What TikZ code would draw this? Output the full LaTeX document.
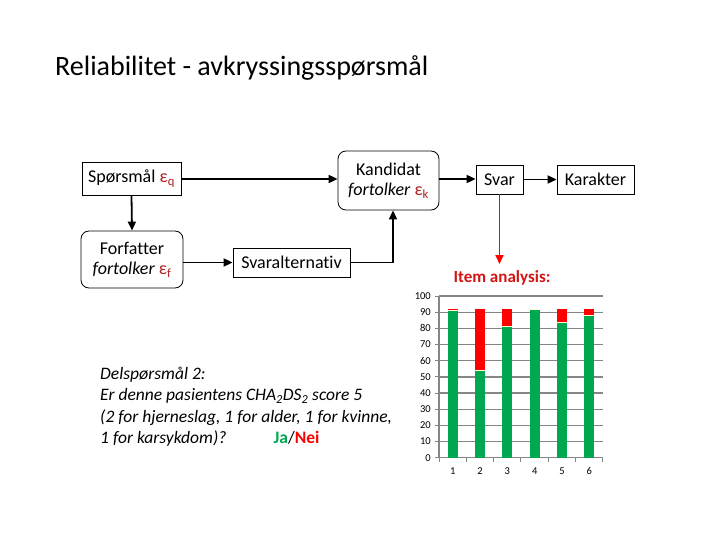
\documentclass[tikz,border=0pt]{standalone}
\usepackage{fontspec}
\setmainfont[Ligatures=NoCommon]{Carlito}
\usetikzlibrary{arrows.meta,positioning,calc}
\definecolor{epsred}{RGB}{175,35,35}
\definecolor{bargreen}{RGB}{0,168,80}
\definecolor{barred}{RGB}{255,0,0}
\definecolor{gridgray}{RGB}{134,134,134}
\definecolor{itemred}{RGB}{210,20,20}
\newcommand{\eps}[1]{\textcolor{epsred}{\upshape ε\textsubscript{#1}}}
\tikzset{
  sqbox/.style={draw=black, line width=0.8pt, fill=white, inner sep=0pt, align=center, font=\fontsize{18}{20}\selectfont},
  rbox/.style={sqbox, rounded corners=8pt},
  conn/.style={line width=1.8pt, -{Triangle[length=9pt,width=8pt]}},
  redconn/.style={line width=1.8pt, draw=barred, -{Triangle[length=9pt,width=8pt]}, color=barred},
  ytick/.style={anchor=east, inner sep=0pt, font=\fontsize{10.5}{11}\selectfont},
  xtick/.style={anchor=center, inner sep=0pt, font=\fontsize{10.5}{11}\selectfont},
}
\begin{document}
\begin{tikzpicture}[x=1pt,y=-1pt]
\useasboundingbox (0,0) rectangle (720,540);
% title
\node[anchor=base west, inner sep=0pt, font=\fontsize{28}{32}\selectfont] (title) at (55,76) {Reliabilitet - avkryssingsspørsmål};
% boxes
\node[sqbox, minimum width=99pt, minimum height=33pt] (spq) at (131.5,178.5) {Spørsmål \eps{q}};
\node[rbox, minimum width=101pt, minimum height=59pt] (kand) at (388.5,180.5) {Kandidat\\\textit{fortolker} \eps{k}};
\node[rbox, minimum width=102pt, minimum height=57pt] (forf) at (132,259.5) {Forfatter\\\textit{fortolker} \eps{f}};
\node[sqbox, minimum width=117pt, minimum height=29pt] (svalt) at (291.5,262.5) {Svaralternativ};
\node[sqbox, minimum width=47pt, minimum height=29pt] (svar) at (499.5,179.5) {Svar};
\node[sqbox, minimum width=77pt, minimum height=29pt] (kar) at (595.5,179.5) {Karakter};
% connectors
\draw[conn] (spq.east |- 0,179) -- (kand.west |- 0,179);
\draw[conn] (spq.south) -- (forf.north);
\draw[conn] (forf.east |- svalt.west) -- (svalt.west);
\draw[conn] (svalt.east) -| ([xshift=4.5pt]kand.south);
\draw[conn] (kand.east |- 0,179) -- (svar.west |- 0,179);
\draw[conn] (svar.east) -- (kar.west);
% item analysis
\node[inner sep=0pt, text=itemred, font=\bfseries\fontsize{17}{19}\selectfont] (item) at (502,278) {Item analysis:};
\coordinate (itemtip) at (499.5,264);
\draw[redconn] (svar.south) -- (itemtip);
% chart
\begin{scope}
\def\yv#1{457.7-1.617*#1}
\foreach \v in {10,20,...,100}{
  \draw[gridgray, line width=1.3pt] (439,{\yv{\v}}) -- (603,{\yv{\v}});
}
\foreach \v in {0,10,...,100}{
  \node[ytick] (yl\v) at (431,{\yv{\v}}) {\v};
  \draw[gridgray, line width=1pt] (435,{\yv{\v}}) -- (439,{\yv{\v}});
}
\draw[gridgray, line width=1.3pt] (439,{\yv{0}}) -- (439,{\yv{100}});
\draw[gridgray, line width=1.3pt] (439,{\yv{0}}) -- (603,{\yv{0}});
\foreach \i in {0,...,6}{
  \draw[gridgray, line width=1pt] ({439+27.33*\i},{\yv{0}}) -- ({439+27.33*\i},{\yv{0}+4});
}
\foreach \i/\g in {1/91,2/54,3/81,4/92,5/84,6/88}{
  \pgfmathsetmacro{\cx}{439+27.33*(\i-0.5)}
  \fill[bargreen] ({\cx-5},{\yv{0}}) rectangle ({\cx+5},{\yv{\g}});
  \fill[barred] ({\cx-5},{\yv{\g}}) rectangle ({\cx+5},{\yv{92}});
  \draw[white!85!yellow, line width=0.6pt] ({\cx-5},{\yv{\g}}) -- ({\cx+5},{\yv{\g}});
  \node[xtick] (xl\i) at (\cx,471) {\i};
}
\end{scope}
% question text
\node[anchor=north west, inner sep=0pt, align=left, font=\itshape\fontsize{17.5}{21.2}\selectfont] (quest) at (100,367)
{Delspørsmål 2:\\
Er denne pasientens CHA\textsubscript{2}DS\textsubscript{2} score 5\\
(2 for hjerneslag, 1 for alder, 1 for kvinne,\\
1 for karsykdom)?\hspace{2.7em}{\upshape\bfseries\textcolor{bargreen}{Ja}\mdseries/\bfseries\textcolor{barred}{Nei}}};
\end{tikzpicture}
\end{document}
